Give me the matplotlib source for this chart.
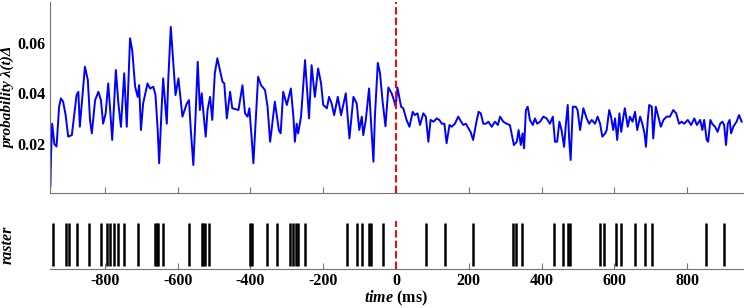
import numpy as np
import matplotlib
matplotlib.use('Agg')
from matplotlib import pyplot as plt

# spike probability trace (time in ms)
t_ms = [-950, -948, -945, -939, -933, -926, -921, -915, -908, -901, -891, -884, -878, -873,
        -869, -862, -855, -847, -841, -836, -827, -818, -811, -805, -798, -791, -785, -780,
        -770, -763, -756, -747, -740, -731, -725, -717, -710, -706,
        -701, -695, -683, -676, -667, -661, -655, -651, -644, -640, -630, -626, -619, -612,
        -606, -598, -587, -575, -569, -564, -557, -551, -545, -539, -534, -530, -523, -518,
        -511, -505, -498, -491, -484, -477, -472, -465, -456,
        -450, -433, -422, -415, -408, -403, -397, -392, -388, -379, -371, -360, -353, -346,
        -342, -333, -322, -317, -310, -300, -289, -282, -278, -273, -269, -261, -250, -245,
        -239, -232, -223, -214,
        -206, -200, -190, -184, -177, -170, -160, -151, -138, -128, -117, -108, -101, -94,
        -90, -83, -74, -69, -62, -58, -50, -44, -37, -29, -21, -12, -5, -1, 4, 9, 14, 20, 29, 37,
        46, 52, 59, 66, 75, 82, 89, 95, 103, 112, 119, 126, 133, 139, 147, 153, 162, 171, 179,
        185, 192, 199, 205, 212, 220, 227, 233, 240, 247, 254, 263, 272, 280, 286, 295, 304,
        313, 324, 332, 337, 343, 348, 352, 357, 362, 368, 376, 382, 388, 396, 405, 414, 423,
        431, 437, 443, 449, 455, 462, 467, 472, 476, 480, 486,
        494, 499, 506, 515, 524, 531, 538, 547, 554, 561, 567, 575, 579, 586, 591, 597, 602,
        608, 614, 619, 625, 629, 637, 643, 650, 657, 663, 671, 677, 683, 687, 692, 696, 703,
        707, 714, 721, 728, 735, 744, 753, 762, 770, 778, 785, 792, 802, 811, 820, 827, 836,
        842, 847, 854, 858, 864, 869, 877, 884, 891, 897, 902, 907, 912, 917, 921, 927, 936,
        943, 950]
prob = [0.0032, 0.0163, 0.028, 0.020, 0.019, 0.0347, 0.038, 0.0367, 0.0314, 0.0229, 0.0235,
        0.0321, 0.0393, 0.0406, 0.0268, 0.0386, 0.0505, 0.0452, 0.0295, 0.0242, 0.0373, 0.0406,
        0.0373, 0.028, 0.0321, 0.0439, 0.0321, 0.0216, 0.0492, 0.036, 0.0268, 0.0479, 0.0268,
        0.0617, 0.057, 0.0426, 0.0386, 0.0432,
        0.0255, 0.036, 0.0439, 0.0419, 0.0426, 0.0393, 0.0255, 0.0124, 0.0347, 0.0459, 0.028,
        0.0452, 0.0662, 0.0518, 0.0393, 0.0459, 0.0308, 0.036, 0.0373, 0.0255, 0.0117, 0.0308,
        0.0524, 0.0334, 0.04, 0.0334, 0.0229, 0.0334, 0.0386, 0.0295, 0.0479, 0.0538, 0.0492,
        0.0446, 0.0439, 0.0301, 0.0406,
        0.0341, 0.0334, 0.0432, 0.0321, 0.0308, 0.0341, 0.0229, 0.0124, 0.0229, 0.0465, 0.0432,
        0.0413, 0.0347, 0.0209, 0.0255, 0.0367, 0.0255, 0.0242, 0.0406, 0.0354, 0.0419, 0.0308,
        0.0209, 0.028, 0.0242, 0.0308, 0.0531, 0.0426, 0.0301, 0.0511, 0.0386, 0.0498,
        0.0439, 0.0354, 0.0341, 0.0386, 0.036, 0.0314, 0.0386, 0.0314, 0.04, 0.0222, 0.0386,
        0.036, 0.0255, 0.0308, 0.0235, 0.0295, 0.0419, 0.0295, 0.013, 0.0308, 0.052, 0.048,
        0.037, 0.027, 0.0423, 0.040, 0.037, 0.0347, 0.0423, 0.0386, 0.0347, 0.0341, 0.0295, 0.0268,
        0.0327, 0.0314, 0.0321, 0.0275, 0.0321, 0.0308, 0.0209, 0.0295, 0.0288, 0.0301, 0.0295,
        0.028, 0.028, 0.0203, 0.0275, 0.0268, 0.028, 0.0308, 0.0288, 0.0275, 0.028, 0.0262,
        0.0248, 0.0216, 0.028, 0.0327, 0.0321, 0.028, 0.028, 0.0288, 0.0268, 0.0288, 0.0275,
        0.0308, 0.0288, 0.028, 0.0275, 0.0196, 0.0209, 0.0255, 0.0196, 0.0242, 0.0183, 0.0334,
        0.0347, 0.0295, 0.0275, 0.0301, 0.028, 0.0288, 0.0308, 0.0301, 0.028, 0.0308, 0.0209,
        0.0209, 0.0288, 0.0255, 0.0189, 0.028, 0.0354, 0.0216, 0.0137, 0.0347,
        0.0347, 0.0334, 0.0255, 0.0341, 0.0301, 0.028, 0.0295, 0.028, 0.0308, 0.028, 0.0229,
        0.0242, 0.0255, 0.0334, 0.0308, 0.0255, 0.0301, 0.0216, 0.0321, 0.0248, 0.0308, 0.0341,
        0.0268, 0.0308, 0.0288, 0.0327, 0.0255, 0.0308, 0.028, 0.0242, 0.0189, 0.0295, 0.0354,
        0.0347, 0.0222, 0.0347, 0.0308, 0.0268, 0.0295, 0.0308, 0.0308, 0.0334, 0.0321, 0.028,
        0.0288, 0.028, 0.0295, 0.0275, 0.0301, 0.0275, 0.0295, 0.0255, 0.0295, 0.0216, 0.0209,
        0.0295, 0.028, 0.0268, 0.0248, 0.028, 0.0288, 0.0275, 0.0196, 0.028, 0.0295, 0.0242,
        0.0268, 0.0288, 0.0314, 0.0288]

# spike times (ms)
spikes = [-944, -908, -898, -876, -843, -812, -795, -786, -774, -763, -747, -710,
          -662, -658, -653, -640, -568, -534, -530, -525, -513, -401, -397, -355,
          -326, -291, -282, -276, -270, -249, -136, -106, -94, -73, -69, -37,
          82, 135, 211, 321, 329, 346, 433, 460, 472, 478, 561, 573, 604, 618,
          657, 683, 703, 852, 902]

xticks = [-800, -600, -400, -200, 0, 200, 400, 600, 800]
yticks = [0.02, 0.04, 0.06]

plt.rcParams['font.family'] = ['Liberation Serif', 'DejaVu Serif']
plt.rcParams['font.weight'] = 'bold'
plt.rcParams['mathtext.fontset'] = 'custom'
plt.rcParams['mathtext.it'] = 'Liberation Serif:italic:bold'
plt.rcParams['mathtext.rm'] = 'Liberation Serif:bold'

spine_col = '0.45'

fig = plt.figure(figsize=(7.44, 3.08), dpi=100)
ax = fig.add_axes([0.0672, 0.3744, 0.9311, 0.6190])
ax2 = fig.add_axes([0.0672, 0.1256, 0.9311, 0.157])

ax.plot(t_ms, prob, color='#0000ff', lw=1.4)
ax.axvline(0, color='#ff0000', lw=1.4, ls=(0, (3.8, 1.6)))
ax.set_xlim(-951, 953)
ax.set_ylim(0.0008, 0.076)
ax.set_xticks(xticks)
ax.set_xticklabels([])
ax.set_yticks(yticks)
ax.set_yticklabels(['0.02', '0.04', '0.06'], fontsize=11.5, fontweight='bold')
ax.tick_params(direction='in', length=4.5, color=spine_col, width=0.8, pad=3)
ax.tick_params(axis='y', length=0)
for s in ['top', 'right']:
    ax.spines[s].set_visible(False)
for s in ['left', 'bottom']:
    ax.spines[s].set_color(spine_col)
    ax.spines[s].set_linewidth(0.8)
ax.set_ylabel('probability λ(t)Δ', fontsize=11, fontstyle='italic', fontweight='bold')
ax.yaxis.set_label_coords(-0.05, 0.5)

ax2.vlines(spikes, 0.06, 0.95, color='k', lw=1.8)
ax2.axvline(0, color='#ff0000', lw=1.4, ls=(0, (3.8, 1.6)))
ax2.set_xlim(-951, 953)
ax2.set_ylim(0, 1)
ax2.set_xticks(xticks)
ax2.set_xticklabels([str(v) for v in xticks], fontsize=11.5, fontweight='bold')
ax2.set_yticks([])
ax2.tick_params(direction='in', length=4.5, color=spine_col, width=0.8, pad=3)
for s in ['top', 'right', 'left']:
    ax2.spines[s].set_visible(False)
ax2.spines['bottom'].set_color(spine_col)
ax2.spines['bottom'].set_linewidth(0.8)
ax2.set_ylabel('raster', fontsize=11.5, fontstyle='italic', fontweight='bold')
ax2.yaxis.set_label_coords(-0.05, 0.5)
ax2.set_xlabel(r'$time$ (ms)', fontsize=11.5, fontweight='bold', labelpad=-0.5)

fig.savefig('out.png', dpi=100)
